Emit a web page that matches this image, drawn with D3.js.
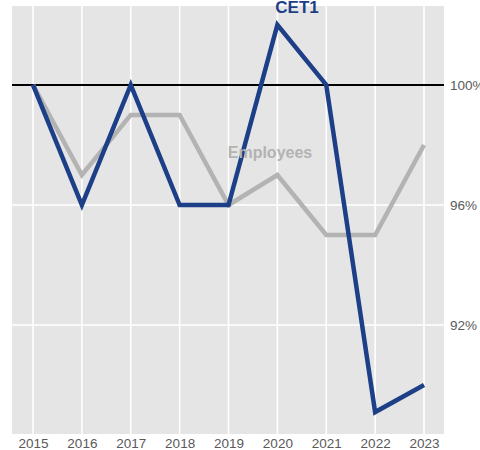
<!DOCTYPE html>
<html>
<head>
<meta charset="utf-8">
<script src="https://cdn.jsdelivr.net/npm/d3@7"></script>
<style>
  body { margin: 0; background: #fff; }
  svg text { font-family: "Liberation Sans", Arial, sans-serif; }
</style>
</head>
<body>
<svg id="chart" width="480" height="450"></svg>
<script>
// values, in % (2015 = 100%)
var years = [2015, 2016, 2017, 2018, 2019, 2020, 2021, 2022, 2023];
var cet1 = [100, 96, 100, 96, 96, 102, 100, 89.1, 90];
var employees = [100, 97, 99, 99, 96, 97, 95, 95, 98];
var yTicks = [92, 96, 100];

var svg = d3.select("#chart");
var panel = { left: 12, right: 444, top: 6, bottom: 434 };

var x = d3.scalePoint()
  .domain(years)
  .range([33, 424]);

var y = d3.scaleLinear()
  .domain([88.37, 102.63])
  .range([panel.bottom, panel.top]);

// grey panel
svg.append("rect")
  .attr("x", panel.left).attr("y", panel.top)
  .attr("width", panel.right - panel.left)
  .attr("height", panel.bottom - panel.top)
  .attr("fill", "#e5e5e5");

// grid
svg.append("g").selectAll("line").data(years).join("line")
  .attr("x1", d => x(d)).attr("x2", d => x(d))
  .attr("y1", panel.top).attr("y2", panel.bottom)
  .attr("stroke", "#fff").attr("stroke-width", 1.6);

svg.append("g").selectAll("line").data(yTicks).join("line")
  .attr("x1", panel.left).attr("x2", panel.right)
  .attr("y1", d => y(d)).attr("y2", d => y(d))
  .attr("stroke", "#fff").attr("stroke-width", 1.6);

// axes
var xAxis = svg.append("g")
  .attr("transform", "translate(0," + panel.bottom + ")")
  .call(d3.axisBottom(x).tickSize(0).tickPadding(4.5));
xAxis.select(".domain").remove();
xAxis.selectAll("text").attr("dy", "0.71em").attr("font-size", 13.5).attr("fill", "#5a5a5a");

var yAxis = svg.append("g")
  .attr("transform", "translate(" + panel.right + ",0)")
  .call(d3.axisRight(y).tickValues(yTicks).tickSize(0).tickPadding(6).tickFormat(d => d + "%"));
yAxis.select(".domain").remove();
yAxis.selectAll("text").attr("font-size", 13.5).attr("fill", "#5a5a5a");

// reference line at 100%
svg.append("line")
  .attr("x1", panel.left).attr("x2", panel.right)
  .attr("y1", y(100)).attr("y2", y(100))
  .attr("stroke", "#000").attr("stroke-width", 2);

var line = d3.line()
  .x((d, i) => x(years[i]))
  .y(d => y(d));

svg.append("path")
  .datum(employees)
  .attr("d", line)
  .attr("fill", "none")
  .attr("stroke", "#b3b3b3")
  .attr("stroke-width", 4.5);

svg.append("path")
  .datum(cet1)
  .attr("d", line)
  .attr("fill", "none")
  .attr("stroke", "#1d3f87")
  .attr("stroke-width", 4.5)
  .attr("stroke-linejoin", "miter");

// direct labels
svg.append("text")
  .attr("x", 270).attr("y", 158)
  .attr("text-anchor", "middle")
  .attr("font-size", 16).attr("font-weight", "bold")
  .attr("fill", "#b3b3b3")
  .text("Employees");

svg.append("text")
  .attr("x", 297).attr("y", 13)
  .attr("text-anchor", "middle")
  .attr("font-size", 17).attr("font-weight", "bold")
  .attr("fill", "#1d3f87")
  .text("CET1");
</script>
</body>
</html>
